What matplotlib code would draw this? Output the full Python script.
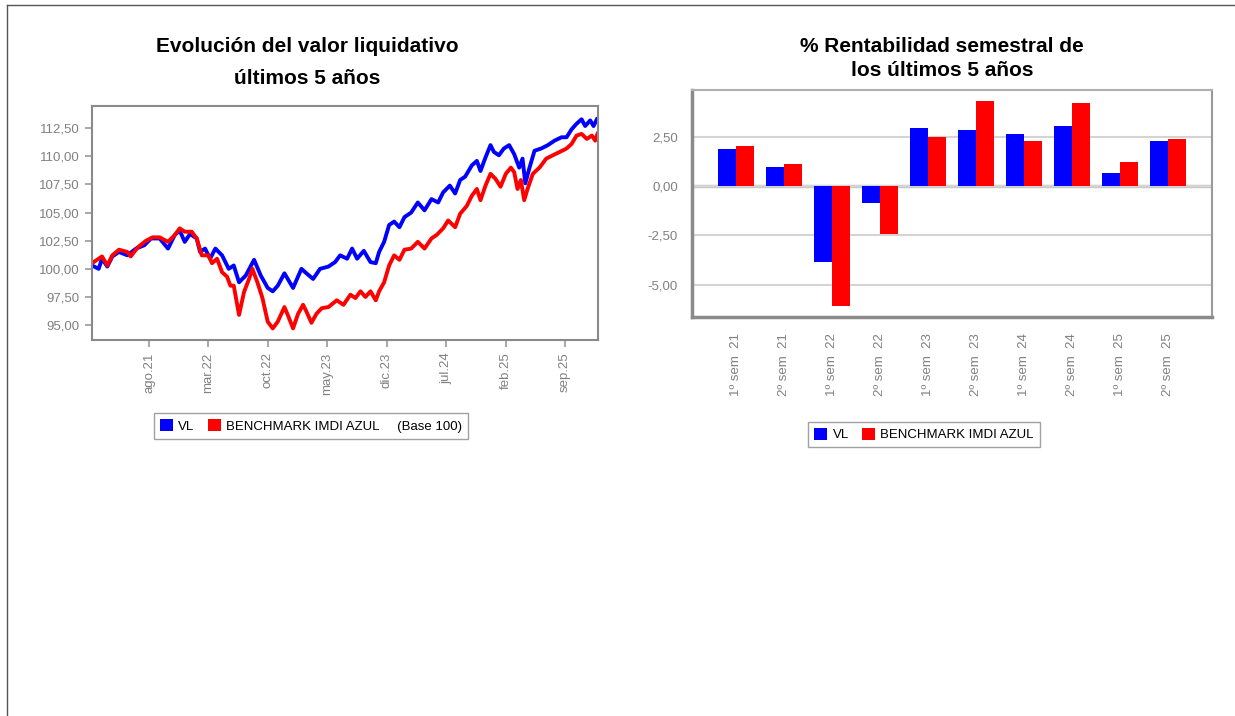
import datetime as dt
import numpy as np
import matplotlib
matplotlib.use("Agg")
import matplotlib.pyplot as plt
from matplotlib.patches import Patch
from matplotlib.lines import Line2D
from matplotlib.ticker import FuncFormatter

plt.rcParams['font.family'] = ['Liberation Sans', 'DejaVu Sans']

# --- data: valor liquidativo (base 100), days since start date ---
start = dt.date(2021, 1, 7)
end_day = 1817

vl_day = [0, 24, 36, 55, 73, 97, 127, 158, 188, 212, 243, 273, 297, 315, 333, 352,
          376, 388, 406, 424, 443, 467, 491, 509, 528, 552, 582, 606, 631, 649, 667,
          691, 703, 722, 752, 770, 794, 819, 849, 873, 891, 916, 934, 952, 976, 1000,
          1019, 1031, 1049, 1067, 1085, 1104, 1122, 1146, 1170, 1194, 1219, 1243,
          1261, 1285, 1304, 1322, 1340, 1364, 1382, 1395, 1413, 1431, 1443, 1461,
          1479, 1498, 1516, 1534, 1546, 1556, 1570, 1589, 1613, 1637, 1661, 1686,
          1704, 1722, 1740, 1758, 1771, 1789, 1801, 1813]
vl = [100.3, 100.0, 100.9, 100.2, 101.1, 101.5, 101.2, 101.8, 102.1, 102.7, 102.7,
      101.8, 103.0, 103.4, 102.4, 103.1, 102.7, 101.5, 101.8, 100.9, 101.8, 101.2,
      100.0, 100.3, 98.8, 99.4, 100.8, 99.4, 98.3, 98.0, 98.5, 99.6, 99.1, 98.3,
      100.0, 99.6, 99.1, 100.0, 100.2, 100.6, 101.2, 100.9, 101.8, 100.9, 101.6,
      100.6, 100.5, 101.5, 102.4, 103.9, 104.2, 103.7, 104.6, 105.0, 105.9, 105.2,
      106.2, 105.9, 106.8, 107.4, 106.7, 107.9, 108.2, 109.2, 109.6, 108.7, 109.9,
      111.0, 110.4, 110.1, 110.7, 111.0, 110.2, 109.0, 109.8, 107.6, 108.9, 110.5,
      110.7, 111.0, 111.4, 111.7, 111.7, 112.4, 112.9, 113.3, 112.7, 113.2, 112.7,
      113.3]

bm_day = [0, 18, 36, 55, 73, 97, 127, 139, 164, 194, 218, 243, 273, 297, 315, 333,
          358, 376, 394, 418, 431, 449, 467, 485, 497, 509, 528, 546, 564, 576, 594,
          612, 631, 649, 667, 691, 703, 722, 740, 758, 770, 788, 806, 825, 849, 879,
          903, 928, 946, 964, 982, 1000, 1019, 1031, 1049, 1067, 1085, 1104, 1122,
          1146, 1170, 1194, 1219, 1237, 1261, 1279, 1304, 1322, 1346, 1364, 1382,
          1395, 1413, 1431, 1449, 1467, 1486, 1504, 1516, 1528, 1540, 1552, 1564,
          1583, 1607, 1631, 1655, 1680, 1704, 1722, 1740, 1758, 1777, 1795, 1807,
          1815]
bm = [100.5, 100.8, 101.1, 100.3, 101.2, 101.7, 101.5, 101.1, 101.9, 102.5, 102.8,
      102.8, 102.4, 103.0, 103.6, 103.3, 103.3, 102.7, 101.2, 101.2, 100.5, 100.9,
      99.7, 99.3, 98.5, 98.5, 95.9, 97.95, 99.1, 100.0, 98.8, 97.4, 95.3, 94.7, 95.3,
      96.6, 95.9, 94.7, 96.0, 96.8, 96.2, 95.2, 96.0, 96.5, 96.6, 97.2, 96.8, 97.7,
      97.4, 98.0, 97.5, 98.0, 97.2, 98.0, 98.8, 100.3, 101.2, 100.8, 101.7, 101.8,
      102.4, 101.8, 102.7, 103.0, 103.6, 104.3, 103.7, 104.9, 105.6, 106.5, 107.1,
      106.1, 107.4, 108.45, 108.0, 107.3, 108.45, 109.0, 108.6, 107.1, 107.9, 106.1,
      107.1, 108.45, 109.0, 109.8, 110.1, 110.4, 110.7, 111.1, 111.85, 112.0, 111.55,
      111.85, 111.4, 112.0]

x_tick_dates = [dt.date(2021, 8, 1), dt.date(2022, 3, 1), dt.date(2022, 10, 1),
                dt.date(2023, 5, 1), dt.date(2023, 12, 1), dt.date(2024, 7, 1),
                dt.date(2025, 2, 1), dt.date(2025, 9, 1)]
x_tick_labels = ['ago.21', 'mar.22', 'oct.22', 'may.23', 'dic.23', 'jul.24',
                 'feb.25', 'sep.25']

# --- data: rentabilidad semestral ---
semesters = ['1º sem  21', '2º sem  21', '1º sem  22', '2º sem  22', '1º sem  23',
             '2º sem  23', '1º sem  24', '2º sem  24', '1º sem  25', '2º sem  25']
sem_vl = [1.88, 0.96, -3.84, -0.85, 2.94, 2.84, 2.64, 3.04, 0.66, 2.28]
sem_bm = [2.03, 1.12, -6.09, -2.43, 2.48, 4.31, 2.28, 4.21, 1.22, 2.38]

BLUE = '#0000ff'
RED = '#ff0000'
GREY_TXT = '#808080'


def comma_fmt(v, pos):
    return f"{v:.2f}".replace('.', ',')


fig = plt.figure(figsize=(12.35, 7.16), dpi=100)

# page border (top and left)
fig.add_artist(Line2D([7 / 1235, 1], [1 - 5 / 716, 1 - 5 / 716], color='#555555', lw=1))
fig.add_artist(Line2D([7 / 1235, 7 / 1235], [0, 1 - 5 / 716], color='#555555', lw=1))

# ---------------- line chart ----------------
ax1 = fig.add_axes([92 / 1235, 1 - 340 / 716, 506 / 1235, 234 / 716])
vl_dates = [start + dt.timedelta(days=d) for d in vl_day]
bm_dates = [start + dt.timedelta(days=d) for d in bm_day]
ax1.plot(vl_dates, vl, color=BLUE, lw=2.8)
ax1.plot(bm_dates, bm, color=RED, lw=2.8)
ax1.set_xlim(start, start + dt.timedelta(days=end_day))
ax1.set_ylim(93.67, 114.48)
ax1.set_yticks(np.arange(95, 113, 2.5))
ax1.yaxis.set_major_formatter(FuncFormatter(comma_fmt))
ax1.set_xticks(x_tick_dates)
ax1.set_xticklabels(x_tick_labels, rotation=90)
for s in ax1.spines.values():
    s.set_color('#8a8a8a')
    s.set_linewidth(1.5)
ax1.tick_params(axis='both', colors='#9a9a9a', labelcolor=GREY_TXT, labelsize=9.5,
                length=5, width=1.2, pad=4)

fig.text(307 / 1235, 1 - 46 / 716, 'Evolución del valor liquidativo', ha='center',
         va='center', fontsize=15, fontweight='bold')
fig.text(307 / 1235, 1 - 78 / 716, 'últimos 5 años', ha='center', va='center',
         fontsize=15, fontweight='bold')

h1 = [Patch(facecolor=BLUE, edgecolor='none'), Patch(facecolor=RED, edgecolor='none')]
leg1 = fig.legend(h1, ['VL', 'BENCHMARK IMDI AZUL     (Base 100)'],
                  loc='center', bbox_to_anchor=(311 / 1235, 1 - 426 / 716), ncol=2,
                  fontsize=9.5, frameon=True, fancybox=False, handlelength=1.0,
                  handleheight=1.0, handletextpad=0.4, columnspacing=1.0,
                  borderpad=0.45, borderaxespad=0)
leg1.get_frame().set_edgecolor('#8a8a8a')
leg1.get_frame().set_linewidth(1.0)

# ---------------- bar chart ----------------
ax2 = fig.add_axes([692 / 1235, 1 - 316.7 / 716, 520 / 1235, 226.7 / 716])
x = np.arange(len(semesters))
w = 0.375
ax2.bar(x - w / 2, sem_vl, width=w, color=BLUE, zorder=3)
ax2.bar(x + w / 2, sem_bm, width=w, color=RED, zorder=3)
ax2.set_xlim(-0.91, len(semesters) - 1 + 0.92)
ax2.set_ylim(-6.63, 4.87)
ax2.set_yticks([-5, -2.5, 0, 2.5])
ax2.yaxis.set_major_formatter(FuncFormatter(comma_fmt))
ax2.set_xticks(x)
ax2.set_xticklabels(semesters, rotation=90)
ax2.grid(axis='y', color='#d4d4d4', lw=1.5, zorder=0)
ax2.axhline(0, color='#c8c8c8', lw=2.5, zorder=1)
ax2.spines['left'].set_color('#8a8a8a')
ax2.spines['left'].set_linewidth(2.5)
ax2.spines['bottom'].set_color('#8a8a8a')
ax2.spines['bottom'].set_linewidth(2.5)
ax2.spines['top'].set_color('#b0b0b0')
ax2.spines['top'].set_linewidth(1.5)
ax2.spines['right'].set_color('#9a9a9a')
ax2.spines['right'].set_linewidth(1.5)
ax2.tick_params(axis='both', length=0, labelcolor=GREY_TXT, labelsize=9.5)
ax2.tick_params(axis='x', pad=12)
ax2.tick_params(axis='y', pad=10)

fig.text(942 / 1235, 1 - 46 / 716, '% Rentabilidad semestral de', ha='center',
         va='center', fontsize=15, fontweight='bold')
fig.text(942 / 1235, 1 - 71 / 716, 'los últimos 5 años', ha='center', va='center',
         fontsize=15, fontweight='bold')

h2 = [Patch(facecolor=BLUE, edgecolor='none'), Patch(facecolor=RED, edgecolor='none')]
leg2 = fig.legend(h2, ['VL', 'BENCHMARK IMDI AZUL'], loc='center',
                  bbox_to_anchor=(924 / 1235, 1 - 434.5 / 716), ncol=2, fontsize=9.5,
                  frameon=True, fancybox=False, handlelength=1.0, handleheight=1.0,
                  handletextpad=0.4, columnspacing=1.0, borderpad=0.45,
                  borderaxespad=0)
leg2.get_frame().set_edgecolor('#8a8a8a')
leg2.get_frame().set_linewidth(1.0)

fig.savefig('out.png', dpi=100)
